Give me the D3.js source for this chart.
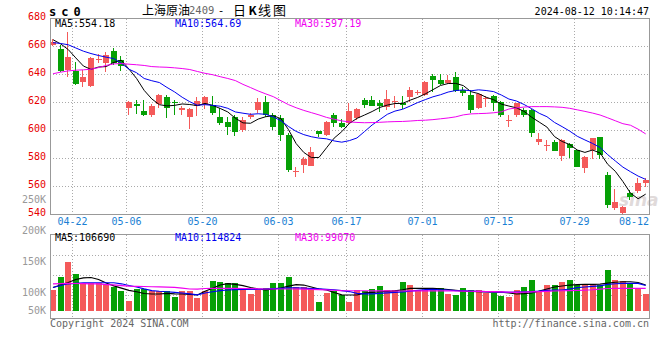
<!DOCTYPE html>
<html><head><meta charset="utf-8">
<script src="https://cdn.jsdelivr.net/npm/d3@7"></script>
<style>body{margin:0;background:#fff}svg{display:block}</style>
</head><body>
<svg id="c" width="660" height="360"></svg>
<script>
const dates = ["04-18","04-19","04-22","04-23","04-24","04-25","04-26","04-29","04-30","05-06",
"05-07","05-08","05-09","05-10","05-13","05-14","05-15","05-16","05-17","05-20",
"05-21","05-22","05-23","05-24","05-27","05-28","05-29","05-30","05-31","06-03",
"06-04","06-05","06-06","06-07","06-11","06-12","06-13","06-14","06-17","06-18",
"06-19","06-20","06-21","06-24","06-25","06-26","06-27","06-28","07-01","07-02",
"07-03","07-04","07-05","07-08","07-09","07-10","07-11","07-12","07-15","07-16",
"07-17","07-18","07-19","07-22","07-23","07-24","07-25","07-26","07-29","07-30",
"07-31","08-01","08-02","08-05","08-06","08-07","08-08","08-09","08-12"];
const open = [660.7,657.9,642.9,642.4,634.1,631.7,649.9,647.6,656.4,650.0,
616.0,618.6,613.8,610.7,618.6,623.8,620.0,614.3,609.0,617.1,
617.9,617.9,609.0,606.0,609.5,600.0,609.0,614.3,620.2,610.7,
608.6,596.4,569.8,575.0,574.5,599.3,596.4,610.7,605.2,604.8,
608.3,621.4,621.4,619.5,616.2,619.8,619.5,623.8,626.2,625.0,
638.6,635.7,633.8,638.1,628.6,625.0,615.7,622.4,624.3,620.2,
606.9,610.7,614.3,614.3,591.7,589.1,591.7,581.4,590.0,585.7,
572.6,585.7,594.8,567.9,544.0,540.5,555.2,556.4,562.4];
const high = [665.0,660.7,670.2,648.8,642.9,652.0,654.3,656.0,658.3,653.1,
620.5,621.4,621.4,618.6,625.5,625.0,621.4,617.0,616.0,623.8,
624.5,624.5,616.0,609.5,610.5,609.0,612.0,622.6,624.3,612.0,
610.7,597.6,573.8,580.5,587.6,599.5,606.7,612.0,608.0,619.0,
616.0,623.0,624.5,621.4,628.6,624.5,624.0,631.0,628.6,635.2,
639.8,639.8,639.3,641.7,630.5,628.6,626.2,624.3,625.0,620.5,
610.7,619.5,616.0,615.0,597.6,592.9,592.9,593.6,590.5,586.0,
581.5,594.5,595.2,569.8,557.9,546.0,557.0,565.5,565.5];
const low = [660.0,641.7,638.0,632.1,631.0,630.5,647.6,641.7,646.4,642.4,
610.7,611.7,610.0,609.0,615.7,608.3,610.7,610.7,600.5,610.0,
615.0,611.0,603.6,596.4,596.0,598.8,608.0,612.0,609.0,600.0,
592.4,570.2,566.7,569.0,574.0,595.2,595.5,601.9,601.5,604.0,
607.0,615.7,617.0,613.0,614.3,615.7,615.0,620.0,625.0,624.5,
627.1,632.1,633.0,627.5,624.5,612.4,615.0,616.7,613.8,609.0,
602.4,609.0,609.0,594.8,589.3,585.0,585.0,578.1,579.8,573.5,
569.5,579.0,579.0,544.0,542.9,540.0,550.0,555.0,559.5];
const close = [663.1,642.4,651.9,632.9,638.1,651.4,650.6,653.6,647.6,645.7,
620.2,617.1,610.7,617.4,625.0,615.7,619.3,615.7,615.2,621.0,
623.8,612.4,604.8,602.4,598.8,607.1,610.7,620.2,610.7,602.4,
596.4,571.4,570.4,579.3,584.0,596.9,605.9,604.8,602.4,613.6,
615.0,617.9,617.1,617.1,622.1,620.5,618.1,628.6,627.1,634.5,
635.7,632.9,635.7,627.9,626.2,614.3,625.7,622.9,619.0,610.7,
607.3,619.0,610.7,597.6,593.6,589.6,585.2,592.9,586.9,573.8,
581.0,594.0,582.1,546.4,548.8,544.8,552.4,561.9,564.3];
const volumeK = [105,125,150,130,115,115,115,114,110,103,
87,106,106,102,102,102,93,103,102,92,
102,119,117,116,116,106,98,106,107,116,
115,125,110,110,107,85.5,100,102,97,85.5,
104,102,106,111,104,104,118,112,104,104,
107,107,98,96,107,104,104,100,100,95,
92.5,104,110,120.5,103,112,112,117.3,120.5,112.4,
113.5,113.5,112.4,136.6,120.5,119,115.1,107.1,97.9];
const ma5 = [664.5,661.5,657.5,651.5,645.7,643.3,645.0,645.3,648.3,649.8,
643.5,636.8,628.3,622.2,618.1,617.2,617.6,618.6,618.2,617.4,
619.0,617.6,615.4,612.9,608.4,605.1,604.8,607.8,609.5,610.2,
608.1,600.2,590.3,584.0,580.3,580.4,587.3,594.2,598.8,604.7,
608.3,610.7,613.2,616.1,617.8,618.9,619.0,621.3,623.3,625.8,
628.8,631.8,633.2,633.3,631.7,627.4,626.0,623.4,621.6,618.5,
617.1,615.8,613.3,609.1,605.6,602.1,595.3,591.8,589.6,585.7,
584.0,585.7,583.6,575.5,570.5,563.2,554.9,550.9,554.2];
const ma10 = [662.4,661.8,660.9,658.6,656.3,654.6,653.2,652.0,651.0,647.7,
643.4,640.9,636.8,635.2,633.9,630.4,627.2,623.4,620.2,617.7,
618.1,617.6,617.0,615.5,612.9,612.0,611.2,611.6,611.2,609.3,
606.6,602.5,599.0,596.7,595.2,594.2,593.7,592.2,591.3,592.4,
594.3,598.9,603.6,607.4,611.2,613.5,614.8,617.1,619.6,621.7,
623.7,625.2,627.1,628.2,628.6,628.0,628.7,628.2,627.4,625.0,
622.1,620.7,618.2,615.2,611.9,609.5,605.4,602.4,599.2,595.5,
592.9,590.4,587.5,582.4,577.9,573.5,570.2,567.1,564.7];
const ma30 = [640.2,641.3,642.2,642.7,643.0,643.4,644.6,646.1,647.2,647.5,
647.0,646.6,646.1,645.3,645.0,644.8,644.4,643.9,643.2,641.8,
640.5,639.5,638.1,636.8,635.3,632.6,630.3,627.9,625.8,623.8,
620.9,618.1,615.9,614.0,612.4,610.8,609.0,607.7,606.5,605.8,
605.4,605.2,605.3,605.5,605.8,606.0,606.1,606.4,606.8,607.0,
607.4,608.0,608.6,609.4,610.8,611.5,611.7,611.9,612.3,613.0,
615.0,615.8,616.4,616.7,616.7,616.7,616.5,616.2,615.5,614.4,
613.3,612.1,610.7,608.7,606.6,604.5,603.4,600.6,597.2];
const volMa5K = [108.4,112.4,116.5,121.3,124,124.5,121.3,115.6,111.1,107.3,
103.7,101.6,98.7,97.9,97.9,99.0,98.1,97.9,97.4,96.3,
102.3,107.3,112.4,114.5,113.5,111.3,108.4,106,104.7,106,
107.6,110.5,112.9,112.4,109.2,106,104.4,100.3,96.6,96.3,
96.3,99.2,100.6,101.6,102.3,103.1,104.8,107.1,107.1,107.1,
106.9,106.3,105.2,104,102.7,102.3,101.8,101.5,101.1,100.8,
99.5,97.9,98.5,99.5,102.7,106,109.2,110.8,112.4,113.1,
113.5,113.5,114,115.6,116.9,117.7,117.7,116.5,112.4];
const volMa10K = [108.4,111.6,114.4,115.2,116,116.1,116.1,116.1,116.1,114.4,
111.6,109.2,106.1,103.5,102.4,101.6,100.6,99.5,98.2,96.6,
99.5,101.6,103.4,104.4,105,105.5,105.5,105.5,106,106.6,
107.1,107.7,107.9,107.3,106.8,106.1,105.5,104.8,103.5,101.9,
99.0,98.2,98.2,98.9,99.8,100.6,101.5,102.7,103.9,105,
105.3,104.8,104.4,103.5,103.2,102.7,102.3,101.8,101.5,101.1,
100.6,101,101.3,101.8,102.7,103.9,104.4,104.4,106,108.2,
109.2,110.3,111.1,113.4,114.5,115.2,115.2,115,111.6];
const volMa30K = [114.1,114.7,115.1,114.9,114.6,114.3,114.1,113.2,112.5,111.5,
110.7,110.3,110,109.6,109.3,109,108.6,107.3,106,105.8,
106.8,107.1,107.1,107.1,107,106.8,106.6,106.3,106,106,
106,106,106,105.8,105.3,104.9,104.5,104,103.4,103.2,
103.2,103.2,103.1,103,102.9,102.8,102.8,102.9,103,103.1,
103.1,103,102.9,102.8,102.7,102.4,102.1,101.8,101.7,101.4,
101,100.6,100.9,101.4,101.8,102.3,102.8,103.2,103.5,103.9,
104.2,104.8,105.8,106.8,107.1,107.1,107.1,107.1,107.1];
const priceTicks = [680,660,640,620,600,580,560,540];
const volTicks = [250000,200000,150000,100000,50000];
const volTickLabels = ["250K","200K","150K","100K","50K"];
const dateTicks = ["04-22","05-06","05-20","06-03","06-17","07-01","07-15","07-29","08-12"];
const priceLegend = [["MA5",554.18],["MA10",564.69],["MA30",597.19]];
const volLegend = [["MA5",106690],["MA10",114824],["MA30",99070]];

const volume = volumeK.map(v => v * 1000);
const volMa5 = volMa5K.map(v => v * 1000);
const volMa10 = volMa10K.map(v => v * 1000);
const volMa30 = volMa30K.map(v => v * 1000);

const RED = "#f45a5a", GREEN = "#06a006", GRID = "#aaa", BORDER = "#999";
const MONO = "'DejaVu Sans Mono', monospace";
const CJK = "'Noto Sans CJK SC', sans-serif";
const maColors = ["#000", "#0000f0", "#f000f0"];
const L = 50, R = 649;

const svg = d3.select("#c");
svg.append("rect").attr("width", 660).attr("height", 360).attr("fill", "#fff");

const x = d3.scaleBand().domain(dates).range([L, 648.7]).paddingInner(0.21);
const step = x.step(), bw = Math.round(x.bandwidth());
const yP = d3.scaleLinear().domain([540, 680]).range([214, 18]);
const yV = d3.scaleLinear().domain([71000, 250000]).range([310.7, 199.7]);
const vGrid = d3.scaleLinear().domain([0, 4]).range([234.5, 315.5]);
const gx = d => Math.round(x(d) + step - 0.4) + 0.5;

// grids
const grid = svg.append("g").attr("stroke", GRID).attr("stroke-dasharray", "1,2").attr("shape-rendering", "crispEdges");
grid.selectAll("line.hp").data(priceTicks.filter(t => t > 540 && t < 680)).join("line")
  .attr("x1", L).attr("x2", R).attr("y1", t => Math.round(yP(t)) + 0.5).attr("y2", t => Math.round(yP(t)) + 0.5);
grid.selectAll("line.hv").data([1, 2, 3]).join("line").attr("class", "hv")
  .attr("x1", L).attr("x2", R).attr("y1", k => Math.round(vGrid(k)) + 0.5).attr("y2", k => Math.round(vGrid(k)) + 0.5);
const vd = dateTicks.filter(d => gx(d) < R - 1);
grid.selectAll("line.vp").data(vd).join("line").attr("class", "vp")
  .attr("x1", gx).attr("x2", gx).attr("y1", 19).attr("y2", 214);
grid.selectAll("line.vv").data(vd).join("line").attr("class", "vv")
  .attr("x1", gx).attr("x2", gx).attr("y1", 235).attr("y2", 318);

// watermark
svg.append("text").attr("x", 619).attr("y", 206).attr("font-family", "'DejaVu Sans', sans-serif")
  .attr("font-style", "italic").attr("font-weight", "bold").attr("font-size", 17)
  .attr("fill", "#d9d2d2").attr("opacity", 0.8).text("sina");

// candles
const cg = svg.append("g").attr("shape-rendering", "crispEdges");
const idx = d3.range(dates.length);
const colorOf = i => close[i] >= open[i] ? RED : GREEN;
cg.selectAll("rect.wick").data(idx).join("rect").attr("class", "wick")
  .attr("x", i => Math.round(x(dates[i])) + 2).attr("width", 1)
  .attr("y", i => Math.round(yP(high[i])))
  .attr("height", i => Math.max(1, Math.round(yP(low[i])) - Math.round(yP(high[i]))))
  .attr("fill", colorOf);
cg.selectAll("rect.body").data(idx).join("rect").attr("class", "body")
  .attr("x", i => Math.round(x(dates[i]))).attr("width", bw)
  .attr("y", i => Math.round(yP(Math.max(open[i], close[i]))))
  .attr("height", i => Math.max(1, Math.round(yP(Math.min(open[i], close[i]))) - Math.round(yP(Math.max(open[i], close[i])))))
  .attr("fill", colorOf);

// volume bars
const base = Math.round(yV(71000));
cg.selectAll("rect.vol").data(idx).join("rect").attr("class", "vol")
  .attr("x", i => Math.round(x(dates[i]))).attr("width", bw)
  .attr("y", i => Math.round(yV(volume[i])))
  .attr("height", i => base - Math.round(yV(volume[i])))
  .attr("fill", colorOf);

// MA lines
const lineP = d3.line().x((v, i) => x(dates[i]) + bw / 2).y(v => yP(v));
const lineV = d3.line().x((v, i) => x(dates[i]) + bw / 2).y(v => yV(v));
[ma5, ma10, ma30].forEach((s, k) => svg.append("path").attr("d", lineP(s)).attr("fill", "none")
  .attr("stroke", maColors[k]).attr("stroke-width", 1));
[volMa5, volMa10, volMa30].forEach((s, k) => svg.append("path").attr("d", lineV(s)).attr("fill", "none")
  .attr("stroke", maColors[k]).attr("stroke-width", 1.2));

// borders
const bord = svg.append("g").attr("fill", "none").attr("stroke", BORDER).attr("shape-rendering", "crispEdges");
bord.append("rect").attr("x", L + 0.5).attr("y", 18.5).attr("width", R - L).attr("height", 196);
bord.append("rect").attr("x", L + 0.5).attr("y", 234.5).attr("width", R - L).attr("height", 84);

// axis labels
const txt = svg.append("g").attr("font-family", MONO).attr("font-size", 10);
txt.selectAll("text.py").data(priceTicks).join("text").attr("class", "py")
  .attr("x", 46).attr("y", t => yP(t) + 1.5).attr("text-anchor", "end").attr("fill", "#e80000").text(t => t);
txt.selectAll("text.vy").data(volTicks).join("text").attr("class", "vy")
  .attr("x", 46).attr("y", t => Math.min(yV(t) + 3.3, 313.5)).attr("text-anchor", "end").attr("fill", "#999")
  .text((t, i) => volTickLabels[i]);
txt.selectAll("text.dx").data(dateTicks).join("text").attr("class", "dx")
  .attr("x", d => gx(d) + 15 > R ? R : gx(d)).attr("y", 224.7)
  .attr("text-anchor", d => gx(d) + 15 > R ? "end" : "middle").attr("fill", "#1a7fd4").text(d => d);

// legends
const legX = [55, 175, 295];
txt.selectAll("text.lp").data(priceLegend).join("text").attr("class", "lp")
  .attr("x", (d, i) => legX[i]).attr("y", 27.3).attr("fill", (d, i) => maColors[i])
  .text(d => d[0] + ":" + d[1].toFixed(2));
txt.selectAll("text.lv").data(volLegend).join("text").attr("class", "lv")
  .attr("x", (d, i) => legX[i]).attr("y", 241.3).attr("fill", (d, i) => maColors[i])
  .text(d => d[0] + ":" + d[1]);

// header
svg.append("text").attr("x", 49).attr("y", 16).attr("font-family", MONO).attr("font-weight", "bold")
  .attr("font-size", 12).attr("letter-spacing", 5).attr("fill", "#000").text("sc0");
svg.append("text").attr("x", 142).attr("y", 14.5).attr("font-family", CJK).attr("font-size", 12).attr("fill", "#000").text("上海原油");
svg.append("text").attr("x", 189).attr("y", 13.5).attr("font-family", MONO).attr("font-size", 10.5).attr("fill", "#666").text("2409");
svg.append("text").attr("x", 221).attr("y", 14).attr("font-family", MONO).attr("font-size", 11).attr("text-anchor", "middle").attr("fill", "#000").text("-");
svg.append("text").attr("x", 233).attr("y", 14.5).attr("font-family", CJK).attr("font-size", 13).attr("fill", "#000").text("日");
svg.append("text").attr("x", 248.5).attr("y", 14.5).attr("font-family", CJK).attr("font-weight", "bold").attr("font-size", 12).attr("fill", "#000").text("K");
svg.append("text").attr("x", 258).attr("y", 14.5).attr("font-family", CJK).attr("font-size", 13).attr("letter-spacing", 2).attr("fill", "#000").text("线图");
svg.append("text").attr("x", R).attr("y", 15).attr("font-family", MONO).attr("font-size", 10).attr("text-anchor", "end").attr("fill", "#000").text("2024-08-12 10:14:47");

// footer
svg.append("text").attr("x", 50).attr("y", 326.5).attr("font-family", MONO).attr("font-size", 10).attr("fill", "#666").text("Copyright 2024 SINA.COM");
svg.append("text").attr("x", R).attr("y", 326.5).attr("font-family", MONO).attr("font-size", 10).attr("text-anchor", "end").attr("fill", "#666").text("http://finance.sina.com.cn");
</script>
</body></html>
